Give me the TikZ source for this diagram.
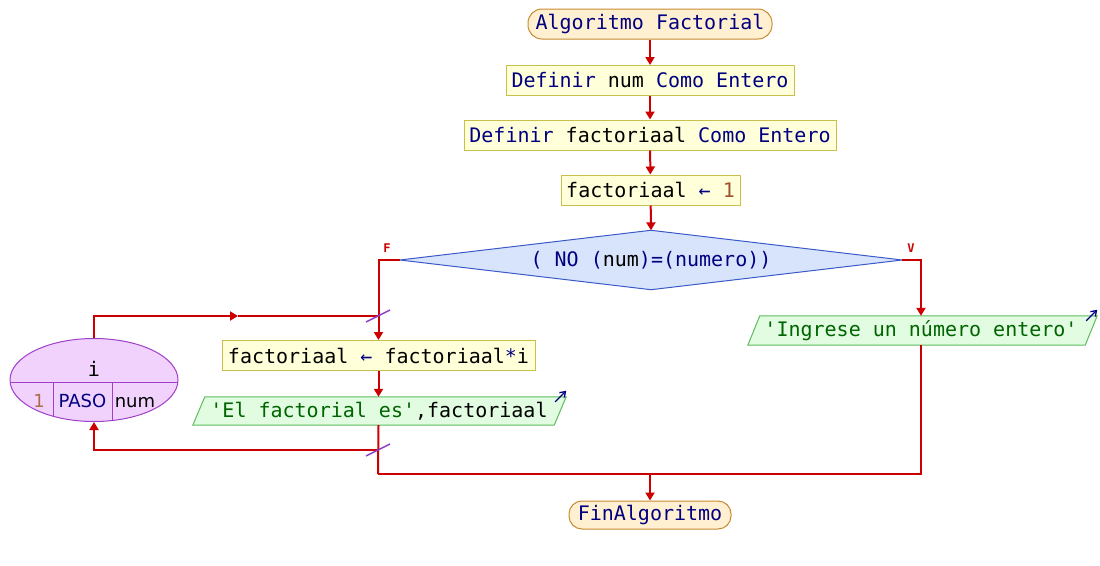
\documentclass[tikz,border=0pt]{standalone}
\usepackage{fontspec}
\setmonofont{DejaVu Sans Mono}
\setsansfont{DejaVu Sans}
\usetikzlibrary{arrows.meta,shapes.geometric,calc}

\definecolor{flow}{HTML}{CC0000}
\definecolor{kw}{HTML}{000080}
\definecolor{strc}{HTML}{006400}
\definecolor{numc}{HTML}{A0522D}
\definecolor{termfill}{HTML}{FFF0D2}
\definecolor{termdraw}{HTML}{C88A30}
\definecolor{procfill}{HTML}{FFFFDA}
\definecolor{procdraw}{HTML}{C8C048}
\definecolor{decfill}{HTML}{D8E4FC}
\definecolor{decdraw}{HTML}{3A5AC8}
\definecolor{iofill}{HTML}{E2FCE2}
\definecolor{iodraw}{HTML}{5CBC5C}
\definecolor{loopfill}{HTML}{F0D2FC}
\definecolor{loopdraw}{HTML}{A040C8}
\definecolor{slashc}{HTML}{8A3CC8}

\newcommand{\K}[1]{\textcolor{kw}{#1}}
\newcommand{\Str}[1]{\textcolor{strc}{#1}}
\newcommand{\Nm}[1]{\textcolor{numc}{#1}}

\tikzset{
  code/.style={font=\ttfamily\fontsize{20}{24}\selectfont, text=black, inner sep=0pt},
  loopfield/.style={font=\sffamily\fontsize{18}{21}\selectfont, text=black, inner sep=0pt, anchor=base},
  term/.style={code, draw=termdraw, fill=termfill, line width=1pt, rounded corners=14pt, minimum height=30pt},
  proc/.style={code, draw=procdraw, fill=procfill, line width=1pt, minimum height=30pt},
  ghost/.style={code, minimum height=29pt},
  flowline/.style={draw=flow, line width=2pt},
  flowarrow/.style={flowline, -{Triangle[length=8pt,width=9pt]}},
  slash/.style={draw=slashc, line width=1.5pt},
  outmark/.style={draw=kw, line width=1.3pt, -{Straight Barb[length=5pt,width=7pt]}},
  branch/.style={text=flow, font=\ttfamily\bfseries\fontsize{12}{14}\selectfont, inner sep=0pt},
}

\begin{document}
\begin{tikzpicture}[x=1pt,y=-1pt]
\useasboundingbox (0,0) rectangle (1100,565);

% main sequence
\node[term, minimum width=244pt] (start) at (650,24) {\K{Algoritmo Factorial}};
\node[proc, minimum width=288pt] (def1) at (650,80.5) {\K{Definir} num \K{Como Entero}};
\node[proc, minimum width=372pt] (def2) at (650,135) {\K{Definir} factoriaal \K{Como Entero}};
\node[proc, minimum width=179pt] (init) at (650.5,190) {factoriaal \K{←} \Nm{1}};

% decision
\node[ghost, minimum width=502pt, minimum height=59pt] (dec) at (651,260) {};
\draw[draw=decdraw, fill=decfill, line width=1pt]
  (dec.west) -- (dec.north) -- (dec.east) -- (dec.south) -- cycle;
\node[code] at (dec.center) {\K{( NO (}num\K{)=(numero))}};
\node[branch] (lblF) at (387,248) {F};
\node[branch] (lblV) at (911,248) {V};

% true branch: output
\node[ghost, minimum width=337pt] (ask) at (922.5,330.5) {};
\draw[draw=iodraw, fill=iofill, line width=1pt]
  ($(ask.north west)+(6,0)$) -- ($(ask.north east)+(6,0)$) --
  ($(ask.south east)+(-6,0)$) -- ($(ask.south west)+(-6,0)$) -- cycle;
\node[code] at (921,330.5) {\Str{'Ingrese un número entero'}};
\draw[outmark] ($(ask.north east)+(-5,5)$) -- ($(ask.north east)+(6,-6)$);

% false branch: loop body
\node[proc, minimum width=313pt] (body) at (378.5,355.5) {factoriaal \K{←} factoriaal\K{*}i};
\node[ghost, minimum width=361pt, minimum height=28pt] (show) at (379.5,411) {};
\draw[draw=iodraw, fill=iofill, line width=1pt]
  ($(show.north west)+(6,0)$) -- ($(show.north east)+(6,0)$) --
  ($(show.south east)+(-6,0)$) -- ($(show.south west)+(-6,0)$) -- cycle;
\node[code] at (379,411) {\Str{'El factorial es'},factoriaal};
\draw[outmark] ($(show.north east)+(-5,5)$) -- ($(show.north east)+(6,-6)$);

% loop header
\node[ellipse, draw=loopdraw, fill=loopfill, line width=1pt, minimum width=168pt, minimum height=83pt, inner sep=0pt] (loop) at (94,380) {};
\begin{scope}
  \clip (94,380) ellipse [x radius=84, y radius=41.5];
  \draw[loopdraw, line width=1pt] (0,382) -- (190,382);
  \draw[loopdraw, line width=1pt] (53,382) -- (53,430);
  \draw[loopdraw, line width=1pt] (112,382) -- (112,430);
\end{scope}
\node[code] (lvar) at (94,369) {i};
\node[loopfield, text=numc!85!white] (lfrom) at (39,407) {1};
\node[loopfield, text=kw] (lstep) at (82.5,407) {PASO};
\node[loopfield] (lto) at (135,407) {num};

% junction points
\coordinate (ltop) at (378,316);
\coordinate (lbot) at (378,450);
\coordinate (lmid) at (238,316);
\coordinate (jl) at (378,474);
\coordinate (jr) at (921,474);
\coordinate (jm) at (650,474);

\node[term, minimum width=162pt, minimum height=28pt, rounded corners=13pt] (finish) at (650,515) {\K{FinAlgoritmo}};

% connectors
\draw[flowarrow] (start) -- (def1);
\draw[flowarrow] (def1) -- (def2);
\draw[flowarrow] (def2) -- (init);
\draw[flowarrow] (init) -- (dec.north);
\draw[flowarrow] (dec.west) -| (body.north);
\draw[flowarrow] (dec.east) -| (ask.north -| jr);
\draw[flowarrow] (body) -- (show.north -| body.south);
\draw[flowline] (show.south -| body.south) -- (jl);
\draw[flowline] (ask.south -| jr) -- (jr) -- (jl);
\draw[flowarrow] (jm) -- (finish);
\draw[flowarrow] (loop.north) |- (lmid);
\draw[flowline] (lmid) -- (ltop);
\draw[flowarrow] (lbot) -| (loop.south);

% loop marks
\draw[slash] ($(ltop)+(-12,6)$) -- ($(ltop)+(12,-6)$);
\draw[slash] ($(lbot)+(-12,6)$) -- ($(lbot)+(12,-6)$);
\end{tikzpicture}
\end{document}
